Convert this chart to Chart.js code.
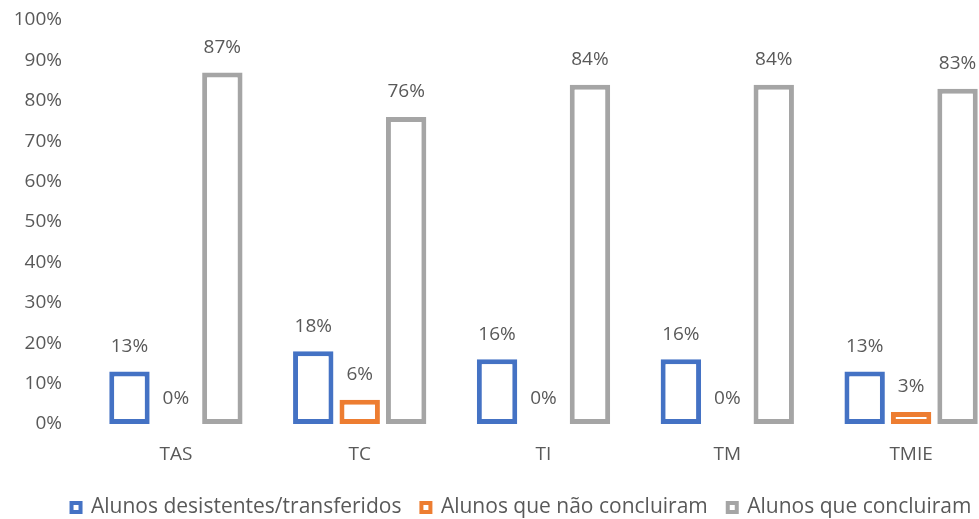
<!DOCTYPE html>
<html>
<head>
<meta charset="utf-8">
<script src="https://cdn.jsdelivr.net/npm/chart.js@4/dist/chart.umd.min.js"></script>
<style>
html,body{margin:0;padding:0;overflow:hidden;background:#fff;width:979px;height:519px;}
#wrap{position:absolute;left:0;top:0;width:1030px;height:519px;}
</style>
</head>
<body>
<div id="wrap"><canvas id="c"></canvas></div>
<script>
const categories = ["TAS", "TC", "TI", "TM", "TMIE"];
const seriesNames = ["Alunos desistentes/transferidos", "Alunos que não concluiram", "Alunos que concluiram"];
const desistentes = [13, 18, 16, 16, 13];
const naoConcluiram = [0, 6, 0, 0, 3];
const concluiram = [87, 76, 84, 84, 83];
const yTicks = [0, 10, 20, 30, 40, 50, 60, 70, 80, 90, 100];

const colors = ["#4472C4", "#ED7D31", "#A5A5A5"];
const FONT = "'Open Sans', 'Liberation Sans', sans-serif";
const TXT = "#595959";
const LEGEND_PAD = 20;

const labelPlugin = {
  id: 'valueLabels',
  beforeLayout(chart) {
    const lg = chart.legend;
    if (lg && !lg._fixedFit) {
      const f = lg.fit.bind(lg);
      lg.fit = function () { f(); this.height = 42; };
      lg._fixedFit = true;
    }
  },
  afterLayout(chart) {
    const lg = chart.legend;
    if (lg) { lg.left += 20; lg.right += 20; }
  },
  afterDatasetsDraw(chart) {
    const ctx = chart.ctx;
    ctx.save();
    ctx.font = "19px " + FONT;
    ctx.fillStyle = TXT;
    ctx.textAlign = 'center';
    ctx.textBaseline = 'middle';
    chart.data.datasets.forEach((ds, i) => {
      const meta = chart.getDatasetMeta(i);
      meta.data.forEach((el, j) => {
        ctx.fillText(ds.data[j] + '%', el.x, el.y - 25);
      });
    });
    ctx.restore();
  }
};

const mk = (label, data, c) => ({
  label, data,
  backgroundColor: '#ffffff',
  borderColor: c,
  borderWidth: 5,
  borderSkipped: false,
  categoryPercentage: 0.758,
  barPercentage: 0.87
});

new Chart(document.getElementById('c'), {
  type: 'bar',
  data: {
    labels: categories,
    datasets: [
      mk(seriesNames[0], desistentes, colors[0]),
      mk(seriesNames[1], naoConcluiram, colors[1]),
      mk(seriesNames[2], concluiram, colors[2])
    ]
  },
  options: {
    responsive: true,
    maintainAspectRatio: false,
    animation: false,
    events: [],
    layout: { padding: { left: 0, right: 27, top: 20, bottom: 0 } },
    plugins: {
      tooltip: { enabled: false },
      legend: {
        position: 'bottom',
        labels: {
          font: { family: FONT, size: 21 },
          color: TXT,
          boxWidth: 9,
          boxHeight: 9,
          padding: LEGEND_PAD,
          generateLabels(chart) {
            return chart.data.datasets.map((ds, i) => ({
              text: ds.label,
              fillStyle: '#ffffff',
              strokeStyle: ds.borderColor,
              lineWidth: 4,
              fontColor: TXT,
              datasetIndex: i,
              hidden: false
            }));
          }
        }
      }
    },
    scales: {
      x: {
        afterFit(scale) { scale.height = 53; scale.paddingLeft = 0; scale.paddingRight = 0; },
        grid: { display: false, drawTicks: false },
        border: { display: false },
        ticks: { font: { family: FONT, size: 19 }, color: TXT, padding: 19 }
      },
      y: {
        min: 0, max: 100,
        afterBuildTicks(scale) { scale.ticks = yTicks.map(v => ({ value: v })); },
        afterFit(scale) { scale.width = 84; scale.paddingTop = 0; scale.paddingBottom = 0; },
        grid: { display: false, drawTicks: false },
        border: { display: false },
        ticks: { font: { family: FONT, size: 19 }, color: TXT, padding: 22, callback: v => v + '%' }
      }
    }
  },
  plugins: [labelPlugin]
});
</script>
</body>
</html>
